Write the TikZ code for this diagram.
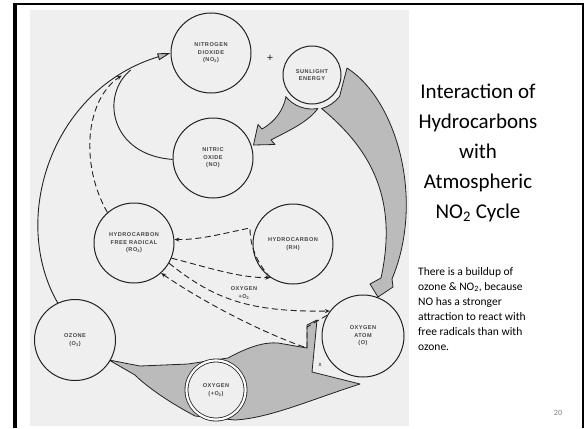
\documentclass[tikz,border=0pt]{standalone}
\usepackage{fontspec}
\setmainfont{Carlito}
\newfontfamily\labfont[LetterSpace=9]{Liberation Sans}
\usetikzlibrary{arrows.meta}
\pgfdeclarelayer{bg}
\pgfsetlayers{bg,main}
\definecolor{scan}{HTML}{EFEFEF}
\definecolor{shadec}{HTML}{BBBBBB}
\definecolor{ink}{HTML}{222222}
\definecolor{labc}{HTML}{444444}
\tikzset{
  circ/.style={circle, draw=ink, line width=1pt, fill=scan, inner sep=0pt, align=center,
    font=\labfont\bfseries\fontsize{5.6}{7.6}\selectfont, text=labc},
  shadearrow/.style={fill=shadec, draw=ink, line width=0.8pt, line join=round},
  dsh/.style={draw=ink, line width=0.9pt, dash pattern=on 6pt off 3.5pt, -{Stealth[length=5pt,width=4pt]}},
  solidcon/.style={draw=ink, line width=0.9pt},
  lab/.style={font=\labfont\bfseries\fontsize{5.6}{7.6}\selectfont, text=labc, align=center, inner sep=0pt}
}
\begin{document}
\begin{tikzpicture}[x=1pt,y=1pt]
\useasboundingbox (0,0) rectangle (585,-428);
% circles
\node[circ, minimum size=80pt] (no2) at (211,-53) {NITROGEN\\DIOXIDE\\(NO\textsubscript{2})};
\node[circ, minimum size=58pt] (sun) at (312,-75) {SUNLIGHT\\ENERGY};
\node[circ, minimum size=80pt] (no) at (213,-158) {NITRIC\\OXIDE\\(NO)};
\node[circ, minimum size=80pt] (ro2) at (134,-243) {HYDROCARBON\\FREE RADICAL\\(RO\textsubscript{2})};
\node[circ, minimum size=80pt] (rh) at (293,-244) {HYDROCARBON\\(RH)};
\node[circ, minimum size=81pt] (o3) at (75,-340) {OZONE\\(O\textsubscript{3})};
\node[circ, minimum size=82pt] (oat) at (363,-336) {OXYGEN\\ATOM\\(O)};
\node[circ, minimum size=59pt, line width=0.8pt, double=white, double distance=2.2pt] (o2) at (216,-390) {OXYGEN\\(+O\textsubscript{2})};
% labels
\node[font=\labfont\fontsize{11}{11}\selectfont, text=ink, inner sep=0pt] (plus) at (270,-58) {+};
\node[lab] (oxlab) at (244,-293) {OXYGEN\\+O\textsubscript{2}};
\node[font=\labfont\fontsize{6}{6}\selectfont, text=ink, inner sep=0pt] (xm) at (320,-365) {x};
% background and shaded arrows
\begin{pgfonlayer}{bg}
\fill[white] (0,0) rectangle (585,-428);
\fill[scan] (30,-10) rectangle (409,-426);
\filldraw[shadearrow] (286,-97) .. controls (283,-110) and (276,-121) .. (262,-129) -- (258,-124.5) -- (253.5,-145) -- (275,-144.5) -- (271,-140) .. controls (290,-130) and (308,-122) .. (317.9,-108.5) arc[start angle=280, end angle=219, radius=34] -- cycle;
\filldraw[shadearrow] (321.6,-108.6) arc[start angle=286, end angle=322, radius=35] -- (347,-68) .. controls (397,-100) and (425,-200) .. (392,-279) -- (393,-287) -- (378,-297) -- (370,-284) -- (381,-278) .. controls (398,-200) and (372,-150) .. cycle;
\filldraw[shadearrow] (109,-360) -- (140,-366) -- (188,-364) -- (228,-358) .. controls (250,-346) and (265,-342) .. (278,-343) -- (307,-348) -- (307,-325) -- (317,-320) -- (312,-372) -- (360,-384) .. controls (310,-400) and (270,-418) .. (235,-420) -- (195,-416) .. controls (165,-400) and (145,-385) .. (135,-375) -- cycle;
\end{pgfonlayer}
% frame
\draw[line width=2.3pt] (15,-428) -- (15,-3.85) -- (583.3,-3.85) -- (583.3,-428);
\draw[line width=3.4pt] (15,-2.7) -- (15,-428);
% solid connectors
\draw[solidcon, -{Triangle[length=13pt,width=7pt,fill=shadec]}] (o3.115) .. controls (10,-220) and (50,-90) .. (no2.180) coordinate[pos=0.88] (j) coordinate[pos=0.85] (j2);
\draw[solidcon] (no.182) .. controls (110,-155) and (100,-95) .. (j);
% dashed connectors
\draw[dsh] (ro2.131) .. controls (80,-165) and (85,-100) .. (j2);
\draw[dsh] (rh.236) .. controls (256,-262) and (250,-245) .. (250,-228) .. controls (225,-233) and (200,-240) .. (ro2.5);
\draw[dsh] (ro2.338) .. controls (210,-268) and (240,-278) .. (rh.236);
\draw[dsh] (ro2.330) .. controls (215,-300) and (250,-312) .. (oat.143);
\draw[dsh] (oat.150) -- (307,-327) -- (307,-348) .. controls (260,-332) and (200,-300) .. (ro2.312);
% right text
\node[font=\fontsize{21}{30}\selectfont, text=black, align=center, inner sep=0pt] (title) at (478,-153) {Interaction of\\Hydrocarbons\\with\\Atmospheric\\NO\textsubscript{2} Cycle};
\node[font=\fontsize{11.5}{15}\selectfont, text=black, align=left, anchor=north west, inner sep=0pt] (body) at (418,-267) {There is a buildup of\\ozone \& NO\textsubscript{2}, because\\NO has a stronger\\attraction to react with\\free radicals than with\\ozone.};
\node[font=\fontsize{8}{8}\selectfont, text=gray, inner sep=0pt] (pg) at (558,-413) {20};
\end{tikzpicture}
\end{document}
